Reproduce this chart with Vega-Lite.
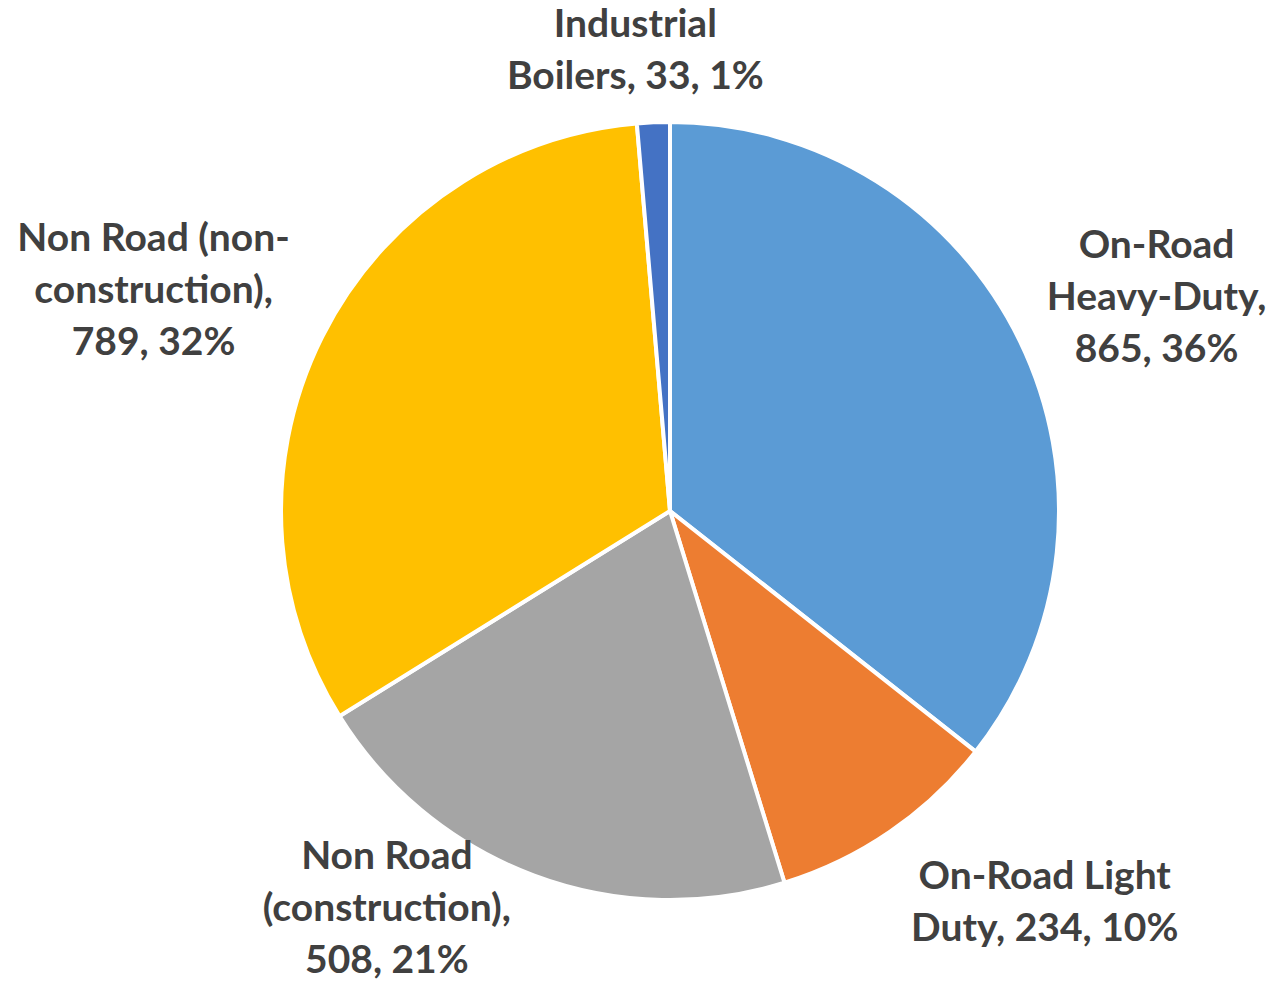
{
  "$schema": "https://vega.github.io/schema/vega-lite/v6.json",
  "autosize": "none",
  "width": 1200,
  "height": 940,
  "padding": {"left": 70, "top": 41, "right": 0, "bottom": 0},
  "background": "white",
  "view": {"stroke": null},
  "data": {
    "values": [
      {"idx": 1, "category": "On-Road Heavy-Duty", "value": 865, "label": "On-Road\nHeavy-Duty,\n865, 36%"},
      {"idx": 2, "category": "On-Road Light Duty", "value": 234, "label": "On-Road Light\nDuty, 234, 10%"},
      {"idx": 3, "category": "Non Road (construction)", "value": 508, "label": "Non Road\n(construction),\n508, 21%"},
      {"idx": 4, "category": "Non Road (non-construction)", "value": 789, "label": "Non Road (non-\nconstruction),\n789, 32%"},
      {"idx": 5, "category": "Industrial Boilers", "value": 33, "label": "Industrial\nBoilers, 33, 1%"}
    ]
  },
  "encoding": {
    "theta": {"field": "value", "type": "quantitative", "stack": true},
    "order": {"field": "idx", "type": "quantitative"}
  },
  "layer": [
    {
      "mark": {"type": "arc", "radius": 389, "stroke": "white", "strokeWidth": 4},
      "encoding": {
        "color": {
          "field": "category",
          "type": "nominal",
          "scale": {
            "domain": ["On-Road Heavy-Duty", "On-Road Light Duty", "Non Road (construction)", "Non Road (non-construction)", "Industrial Boilers"],
            "range": ["#5B9BD5", "#ED7D31", "#A5A5A5", "#FFC000", "#4472C4"]
          },
          "legend": null
        }
      }
    },
    {
      "mark": {"type": "text", "radius": 532, "dx": 8, "dy": -33, "font": "Lato", "fontWeight": "bold", "fontSize": 39, "lineHeight": 52, "lineBreak": "\n", "color": "#404040", "align": "center", "baseline": "middle"},
      "encoding": {
        "detail": {"field": "category", "type": "nominal"},
        "text": {"condition": {"test": "datum.idx === 1", "field": "label"}, "value": ""}
      }
    },
    {
      "mark": {"type": "text", "radius": 535, "dx": 72, "dy": -75, "font": "Lato", "fontWeight": "bold", "fontSize": 39, "lineHeight": 52, "lineBreak": "\n", "color": "#404040", "align": "center", "baseline": "middle"},
      "encoding": {
        "detail": {"field": "category", "type": "nominal"},
        "text": {"condition": {"test": "datum.idx === 2", "field": "label"}, "value": ""}
      }
    },
    {
      "mark": {"type": "text", "radius": 471, "dx": -118, "dy": -95, "font": "Lato", "fontWeight": "bold", "fontSize": 39, "lineHeight": 52, "lineBreak": "\n", "color": "#404040", "align": "center", "baseline": "middle"},
      "encoding": {
        "detail": {"field": "category", "type": "nominal"},
        "text": {"condition": {"test": "datum.idx === 3", "field": "label"}, "value": ""}
      }
    },
    {
      "mark": {"type": "text", "radius": 561, "dx": -15, "dy": -20, "font": "Lato", "fontWeight": "bold", "fontSize": 39, "lineHeight": 52, "lineBreak": "\n", "color": "#404040", "align": "center", "baseline": "middle"},
      "encoding": {
        "detail": {"field": "category", "type": "nominal"},
        "text": {"condition": {"test": "datum.idx === 4", "field": "label"}, "value": ""}
      }
    },
    {
      "mark": {"type": "text", "radius": 461, "dx": -15, "dy": -25, "font": "Lato", "fontWeight": "bold", "fontSize": 39, "lineHeight": 52, "lineBreak": "\n", "color": "#404040", "align": "center", "baseline": "middle"},
      "encoding": {
        "detail": {"field": "category", "type": "nominal"},
        "text": {"condition": {"test": "datum.idx === 5", "field": "label"}, "value": ""}
      }
    }
  ]
}
